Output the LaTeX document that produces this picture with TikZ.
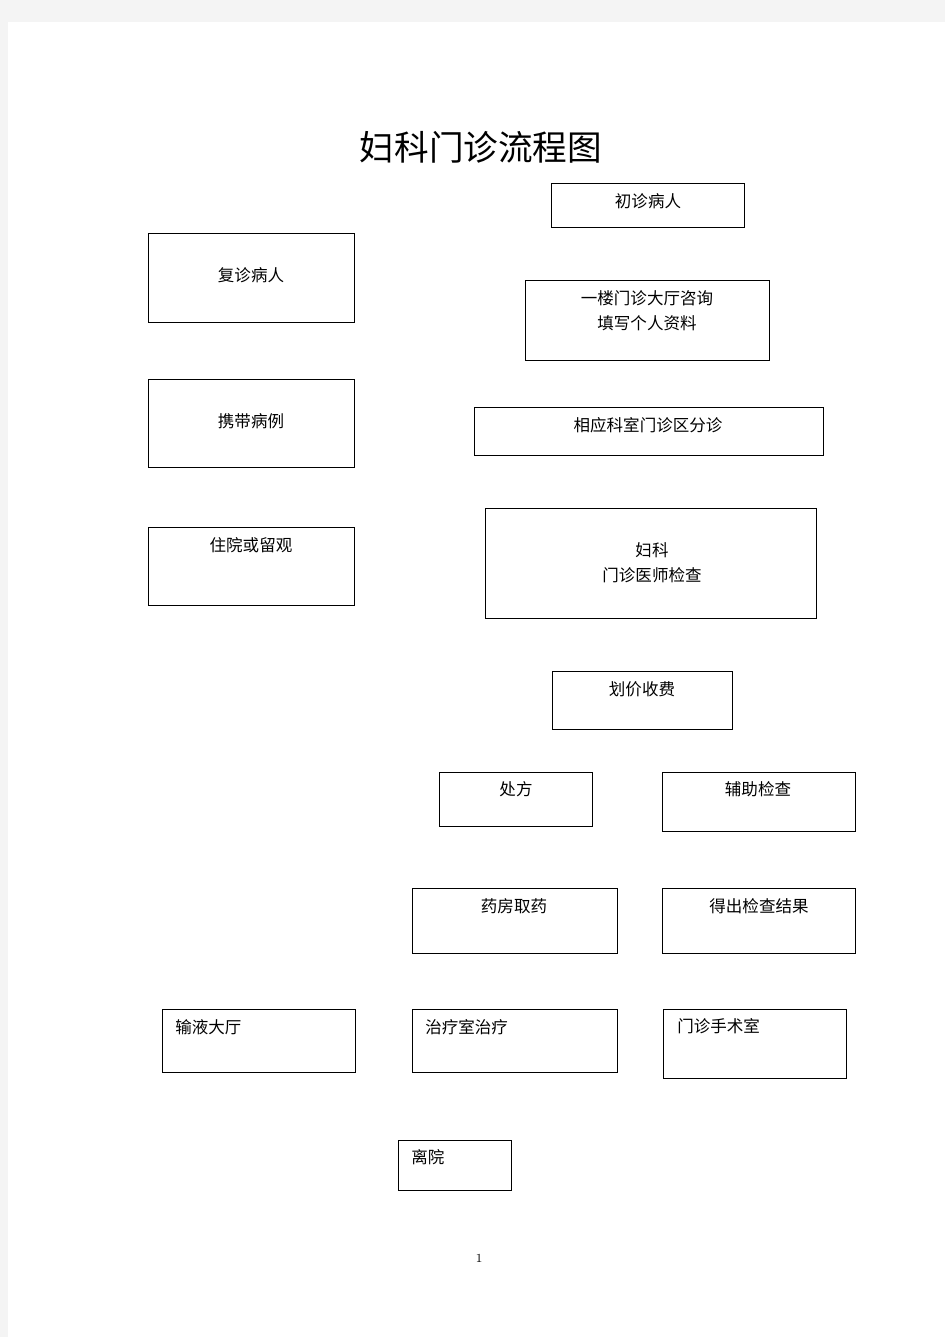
\documentclass[tikz,border=0pt]{standalone}
\usepackage{fontspec}
\newfontfamily\cjk{Noto Sans CJK SC}
\definecolor{pagegray}{HTML}{F4F4F4}
\tikzset{
  box/.style={draw, line width=0.5pt, rectangle, inner sep=0pt, outer sep=0pt},
  txt/.style={font=\cjk\fontsize{9.4pt}{14.2pt}\selectfont, inner sep=0pt, align=center},
}
\begin{document}
\begin{tikzpicture}[x=0.02cm, y=-0.02cm]
\fill[pagegray] (0,0) rectangle (945,1337);
\fill[white] (8,22) rectangle (945,1337);
\useasboundingbox (0,0) rectangle (945,1337);

\node[font=\cjk\fontsize{19.7pt}{24pt}\selectfont, inner sep=0pt] (title) at (481,147) {妇科门诊流程图};

\node[box, minimum width=3.86cm, minimum height=0.88cm] (chuzhen) at (647.5,205) {};
\node[box, minimum width=4.12cm, minimum height=1.78cm] (fuzhen) at (251,277.5) {};
\node[box, minimum width=4.88cm, minimum height=1.6cm] (zixun) at (647,320) {};
\node[box, minimum width=4.12cm, minimum height=1.76cm] (bingli) at (251,423) {};
\node[box, minimum width=6.98cm, minimum height=0.96cm] (fenzhen) at (648.5,431) {};
\node[box, minimum width=4.12cm, minimum height=1.56cm] (zhuyuan) at (251,566) {};
\node[box, minimum width=6.62cm, minimum height=2.2cm] (yishi) at (650.5,563) {};
\node[box, minimum width=3.6cm, minimum height=1.16cm] (shoufei) at (642,700) {};
\node[box, minimum width=3.06cm, minimum height=1.08cm] (chufang) at (515.5,799) {};
\node[box, minimum width=3.86cm, minimum height=1.18cm] (fuzhu) at (758.5,801.5) {};
\node[box, minimum width=4.1cm, minimum height=1.3cm] (quyao) at (514.5,920.5) {};
\node[box, minimum width=3.86cm, minimum height=1.3cm] (jieguo) at (758.5,920.5) {};
\node[box, minimum width=3.86cm, minimum height=1.26cm] (shuye) at (258.5,1040.5) {};
\node[box, minimum width=4.1cm, minimum height=1.26cm] (zhiliao) at (514.5,1040.5) {};
\node[box, minimum width=3.66cm, minimum height=1.38cm] (shoushu) at (754.5,1043.5) {};
\node[box, minimum width=2.26cm, minimum height=1.0cm] (liyuan) at (454.5,1165) {};

\node[txt] (chuzhen-t) at (648,201) {初诊病人};
\node[txt] (fuzhen-t) at (251,275) {复诊病人};
\node[txt] (zixun-t) at (647,311) {一楼门诊大厅咨询\\填写个人资料};
\node[txt] (bingli-t) at (251,421) {携带病例};
\node[txt] (fenzhen-t) at (648,425) {相应科室门诊区分诊};
\node[txt] (zhuyuan-t) at (251,545) {住院或留观};
\node[txt] (yishi-t) at (652,563) {妇科\\门诊医师检查};
\node[txt] (shoufei-t) at (642,689) {划价收费};
\node[txt] (chufang-t) at (516,789) {处方};
\node[txt] (fuzhu-t) at (758,789) {辅助检查};
\node[txt] (quyao-t) at (514,906) {药房取药};
\node[txt] (jieguo-t) at (759,906) {得出检查结果};
\node[txt, anchor=west] (shuye-t) at (175,1027) {输液大厅};
\node[txt, anchor=west] (zhiliao-t) at (425,1027) {治疗室治疗};
\node[txt, anchor=west] (shoushu-t) at (677,1026) {门诊手术室};
\node[txt, anchor=west] (liyuan-t) at (411,1157) {离院};

\node[font=\fontsize{7pt}{8pt}\selectfont, inner sep=0pt] (pageno) at (479,1258) {1};
\end{tikzpicture}
\end{document}
